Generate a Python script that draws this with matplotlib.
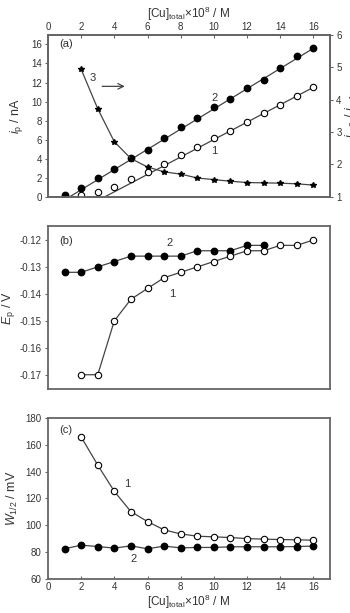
import numpy as np
import matplotlib
matplotlib.use("Agg")
import matplotlib.pyplot as plt

plt.rcParams['font.family'] = ['Liberation Sans', 'DejaVu Sans']
plt.rcParams['mathtext.fontset'] = 'custom'
plt.rcParams['mathtext.rm'] = 'Liberation Sans'
plt.rcParams['mathtext.it'] = 'Liberation Sans:italic'

# ---- data ----
conc_all = [1, 2, 3, 4, 5, 6, 7, 8, 9, 10, 11, 12, 13, 14, 15, 16]
conc_from2 = [2, 3, 4, 5, 6, 7, 8, 9, 10, 11, 12, 13, 14, 15, 16]

# (a) peak currents, nA
ip_2 = [0.14, 0.91, 1.93, 2.88, 4.1, 4.96, 6.19, 7.38, 8.26, 9.4, 10.3, 11.45, 12.3, 13.5, 14.8, 15.6]
ip_1 = [0.14, 0.53, 1.05, 1.83, 2.64, 3.48, 4.39, 5.27, 6.22, 6.93, 7.88, 8.75, 9.63, 10.6, 11.5]
ratio_3 = [4.94, 3.72, 2.70, 2.18, 1.92, 1.77, 1.70, 1.58, 1.53, 1.48, 1.44, 1.43, 1.42, 1.40, 1.36]
# linear fits (slope, intercept)
fit_2 = (1.062, -1.39)
fit_1 = (0.915, -3.14)

# (b) peak potentials, V
ep_2 = [-0.132, -0.132, -0.130, -0.128, -0.126, -0.126, -0.126, -0.126, -0.124, -0.124, -0.124, -0.122, -0.122]
ep_1 = [-0.170, -0.170, -0.150, -0.142, -0.138, -0.134, -0.132, -0.130, -0.128, -0.126, -0.124, -0.124, -0.122, -0.122, -0.120]

# (c) half-peak widths, mV
w_1 = [165.9, 144.9, 125.3, 110.2, 102.8, 96.6, 93.6, 91.9, 91.4, 90.9, 90.1, 89.7, 89.4, 89.2, 88.9]
w_2 = [82.5, 85.2, 84.2, 83.0, 84.7, 82.5, 84.5, 83.2, 83.5, 83.5, 84.0, 84.0, 84.0, 84.0, 84.2, 84.5]

xticks = [0, 2, 4, 6, 8, 10, 12, 14, 16]
xlabel = r'[Cu]$_\mathrm{total}$×10$^8$ / M'

# ---- style ----
spine_c = '#666666'
txt_c = '#333333'
line_c = '#444444'
fs = 7
lfs = 8
yfs = 9

fig = plt.figure(figsize=(3.5, 6.13), dpi=100)
L, W = 0.137, 0.806
axa = fig.add_axes([L, 0.679, W, 0.264])
axb = fig.add_axes([L, 0.3654, W, 0.266])
axc = fig.add_axes([L, 0.0555, W, 0.2626])

def style(ax):
    for s in ax.spines.values():
        s.set_color(spine_c)
        s.set_linewidth(1.3)
    ax.tick_params(colors=txt_c, labelsize=fs, width=0.8, length=2.5, color=spine_c, pad=2)
    ax.set_xlim(0, 17)

ms = 4.6
open_kw = dict(marker='o', ms=ms, mfc='white', mec='black', mew=0.8, color=line_c, lw=0.9)
fill_kw = dict(marker='o', ms=ms, mfc='black', mec='black', color=line_c, lw=0.9)

# ---- (a) ----
style(axa)
axa.set_ylim(0, 17)
axa.set_yticks(range(0, 17, 2))
axa.xaxis.tick_top()
axa.xaxis.set_label_position('top')
axa.set_xticks(xticks)
axa.tick_params(axis='x', direction='in')
axa.tick_params(axis='y', direction='out')
axa.set_xlabel(xlabel, fontsize=lfs + 0.5, color=txt_c, labelpad=3)
axa.set_ylabel(r'$i_\mathrm{p}$ / nA', fontsize=yfs, color=txt_c, labelpad=4)

for (m, b), xs in ((fit_2, conc_all), (fit_1, conc_from2)):
    x0 = -b / m
    xx = np.array([x0, xs[-1]])
    axa.plot(xx, m * xx + b, color=line_c, lw=0.9, zorder=2)
axa.plot(conc_all, ip_2, ls='none', marker='o', ms=ms, mfc='black', mec='black', zorder=3)
axa.plot(conc_from2, ip_1, ls='none', marker='o', ms=ms, mfc='white', mec='black', mew=0.8, zorder=3)

ax2 = axa.twinx()
ax2.set_ylim(1, 6)
ax2.set_xlim(0, 17)
for s in ax2.spines.values():
    s.set_color(spine_c)
    s.set_linewidth(1.3)
ax2.tick_params(colors=txt_c, labelsize=fs, width=0.8, length=2.5, color=spine_c, direction='out', pad=2)
ax2.plot(conc_from2, ratio_3, marker='*', ms=4, color=line_c, mfc='black', mec='black', lw=0.9, zorder=1)
ax2.set_ylabel(r'$i_\mathrm{p,2}$ / $i_\mathrm{p,1}$', fontsize=yfs, color=txt_c, labelpad=1)

axa.text(0.7, 16.0, '(a)', fontsize=lfs, color=txt_c, va='center')
axa.text(2.7, 12.5, '3', fontsize=lfs, color=txt_c, ha='center', va='center')
axa.annotate('', xy=(4.8, 11.6), xytext=(3.1, 11.6),
             arrowprops=dict(arrowstyle='->', color=line_c, lw=0.9))
axa.text(10.05, 10.4, '2', fontsize=lfs, color=txt_c, ha='center', va='center')
axa.text(10.0, 4.8, '1', fontsize=lfs, color=txt_c, ha='center', va='center')

# ---- (b) ----
style(axb)
axb.set_ylim(-0.1753, -0.1148)
axb.set_yticks([-0.17, -0.16, -0.15, -0.14, -0.13, -0.12])
axb.set_yticklabels(['-0.17', '-0.16', '-0.15', '-0.14', '-0.13', '-0.12'])
axb.set_xticks([])
axb.tick_params(axis='y', direction='out')
axb.set_ylabel(r'$E_\mathrm{p}$ / V', fontsize=yfs, color=txt_c, labelpad=2)
axb.plot(conc_all[:len(ep_2)], ep_2, zorder=2, **fill_kw)
axb.plot(conc_from2, ep_1, zorder=3, **open_kw)
axb.text(0.7, -0.1205, '(b)', fontsize=lfs, color=txt_c, va='center')
axb.text(7.3, -0.1213, '2', fontsize=lfs, color=txt_c, ha='center', va='center')
axb.text(7.5, -0.1402, '1', fontsize=lfs, color=txt_c, ha='center', va='center')

# ---- (c) ----
style(axc)
axc.set_ylim(60, 180)
axc.set_yticks(range(60, 181, 20))
axc.set_xticks(xticks)
axc.tick_params(axis='x', direction='in')
axc.tick_params(axis='y', direction='out')
axc.set_xlabel(xlabel, fontsize=lfs + 0.5, color=txt_c, labelpad=1)
axc.set_ylabel(r'$W_{1/2}$ / mV', fontsize=yfs, color=txt_c, labelpad=4)
axc.plot(conc_all, w_2, zorder=2, **fill_kw)
axc.plot(conc_from2, w_1, zorder=3, **open_kw)
axc.text(0.7, 171, '(c)', fontsize=lfs, color=txt_c, va='center')
axc.text(4.8, 130.5, '1', fontsize=lfs, color=txt_c, ha='center', va='center')
axc.text(5.15, 74.8, '2', fontsize=lfs, color=txt_c, ha='center', va='center')

fig.savefig('out.png', dpi=100)
